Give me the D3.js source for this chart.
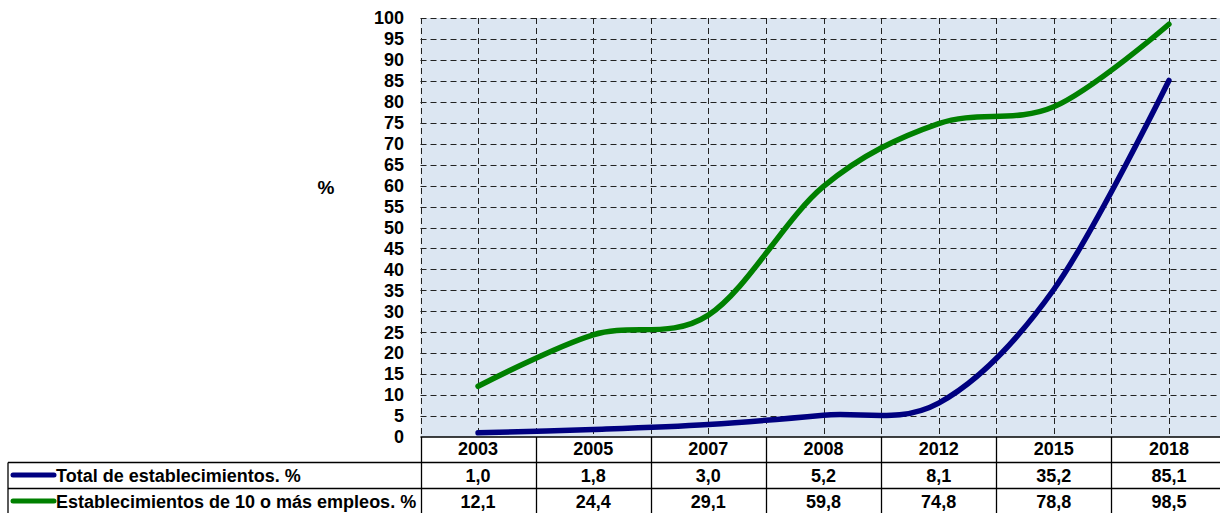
<!DOCTYPE html>
<html>
<head>
<meta charset="utf-8">
<script src="https://cdn.jsdelivr.net/npm/d3@7"></script>
<style>
  body { margin: 0; background: #fff; }
  svg { display: block; font-family: "Liberation Sans", Arial, sans-serif; font-weight: bold; }
  .grid line { stroke: #222; stroke-width: 1; stroke-dasharray: 6 4; }
  .tbl line { stroke: #000; stroke-width: 1.3; }
</style>
</head>
<body>
<svg id="chart" width="1220" height="513"></svg>
<script>
// Data
var years = ['2003', '2005', '2007', '2008', '2012', '2015', '2018'];
var totalEst = [1.0, 1.8, 3.0, 5.2, 8.1, 35.2, 85.1];
var est10 = [12.1, 24.4, 29.1, 59.8, 74.8, 78.8, 98.5];
var seriesNames = ['Total de establecimientos. %', 'Establecimientos de 10 o más empleos. %'];
var seriesColors = ['#000080', '#008000'];
var yTicks = d3.range(0, 101, 5);

function fmt(v) { return v.toFixed(1).replace('.', ','); }

var svg = d3.select('#chart');

var PLOT_LEFT = 420.5, PLOT_RIGHT = 1226.5, PLOT_TOP = 18, PLOT_BOTTOM = 437;
var ROW_H = 26;
var FONT = '18px';

var x = d3.scaleBand().domain(years).range([PLOT_LEFT, PLOT_RIGHT]);
var y = d3.scaleLinear().domain([0, 100]).range([PLOT_BOTTOM, PLOT_TOP]);
var cx = function(d) { return x(d) + x.bandwidth() / 2; };

// Plot background
svg.append('rect')
    .attr('x', PLOT_LEFT).attr('y', PLOT_TOP)
    .attr('width', PLOT_RIGHT - PLOT_LEFT).attr('height', PLOT_BOTTOM - PLOT_TOP)
    .attr('fill', '#dce6f2');

// Gridlines
var grid = svg.append('g').attr('class', 'grid');
grid.selectAll('.hy')
    .data(yTicks.filter(function(d) { return d > 0; }))
    .enter().append('line')
    .attr('x1', PLOT_LEFT).attr('x2', PLOT_RIGHT)
    .attr('y1', function(d) { return Math.round(y(d)) + 0.5; })
    .attr('y2', function(d) { return Math.round(y(d)) + 0.5; });

var vx = [];
years.forEach(function(d) { vx.push(x(d)); vx.push(cx(d)); });
grid.selectAll('.vx')
    .data(vx)
    .enter().append('line')
    .attr('x1', function(d) { return Math.round(d) + 0.5; })
    .attr('x2', function(d) { return Math.round(d) + 0.5; })
    .attr('y1', PLOT_TOP).attr('y2', PLOT_BOTTOM);

// y axis labels
var yAxis = d3.axisLeft(y).tickValues(yTicks).tickSize(0).tickPadding(0);
var yg = svg.append('g')
    .attr('transform', 'translate(404,0)')
    .call(yAxis);
yg.select('.domain').remove();
yg.selectAll('text')
    .attr('fill', '#000')
    .style('font-size', FONT)
    .style('font-family', '"Liberation Sans", Arial, sans-serif')
    .style('font-weight', 'bold');

svg.append('text')
    .attr('x', 326).attr('y', 194)
    .attr('text-anchor', 'middle')
    .style('font-size', '19px')
    .text('%');

// Lines
var line = d3.line()
    .x(function(d, i) { return cx(years[i]); })
    .y(function(d) { return y(d); })
    .curve(d3.curveCatmullRom.alpha(0));

[totalEst, est10].forEach(function(s, k) {
    svg.append('path')
        .datum(s)
        .attr('fill', 'none')
        .attr('stroke', seriesColors[k])
        .attr('stroke-width', 5.5)
        .attr('stroke-linecap', 'round')
        .attr('d', line);
});

// Data table
var tbl = svg.append('g').attr('class', 'tbl');
var rowY = [PLOT_BOTTOM, PLOT_BOTTOM + ROW_H, PLOT_BOTTOM + 2 * ROW_H, PLOT_BOTTOM + 3 * ROW_H];
var TBL_LEFT = 8;

// horizontal table lines
tbl.append('line').attr('x1', PLOT_LEFT).attr('x2', PLOT_RIGHT).attr('y1', rowY[0]).attr('y2', rowY[0]);
[1, 2, 3].forEach(function(r) {
    tbl.append('line').attr('x1', TBL_LEFT).attr('x2', PLOT_RIGHT)
        .attr('y1', rowY[r] - 0.5).attr('y2', rowY[r] - 0.5);
});
// vertical table lines
tbl.append('line').attr('x1', TBL_LEFT).attr('x2', TBL_LEFT).attr('y1', rowY[1] - 0.5).attr('y2', rowY[3]);
years.forEach(function(d) {
    tbl.append('line')
        .attr('x1', Math.round(x(d)) + 0.5).attr('x2', Math.round(x(d)) + 0.5)
        .attr('y1', rowY[0]).attr('y2', rowY[3]);
});

// category labels
var xAxis = d3.axisBottom(x).tickSize(0).tickPadding(0);
var xg = svg.append('g')
    .attr('transform', 'translate(0,' + (rowY[0] + 5) + ')')
    .call(xAxis);
xg.select('.domain').remove();
xg.selectAll('text')
    .attr('fill', '#000')
    .style('font-size', FONT)
    .style('font-family', '"Liberation Sans", Arial, sans-serif')
    .style('font-weight', 'bold');

// values rows
[totalEst, est10].forEach(function(s, k) {
    var ry = rowY[k + 1] + ROW_H / 2 + 6;
    svg.selectAll('.val' + k)
        .data(s)
        .enter().append('text')
        .attr('x', function(d, i) { return cx(years[i]); })
        .attr('y', ry)
        .attr('text-anchor', 'middle')
        .style('font-size', FONT)
        .text(fmt);

    svg.append('line')
        .attr('x1', 13).attr('x2', 54)
        .attr('y1', rowY[k + 1] + ROW_H / 2 - 1)
        .attr('y2', rowY[k + 1] + ROW_H / 2 - 1)
        .attr('stroke', seriesColors[k])
        .attr('stroke-width', 5)
        .attr('stroke-linecap', 'round');

    svg.append('text')
        .attr('x', 56).attr('y', ry)
        .style('font-size', FONT)
        .text(seriesNames[k]);
});
</script>
</body>
</html>
